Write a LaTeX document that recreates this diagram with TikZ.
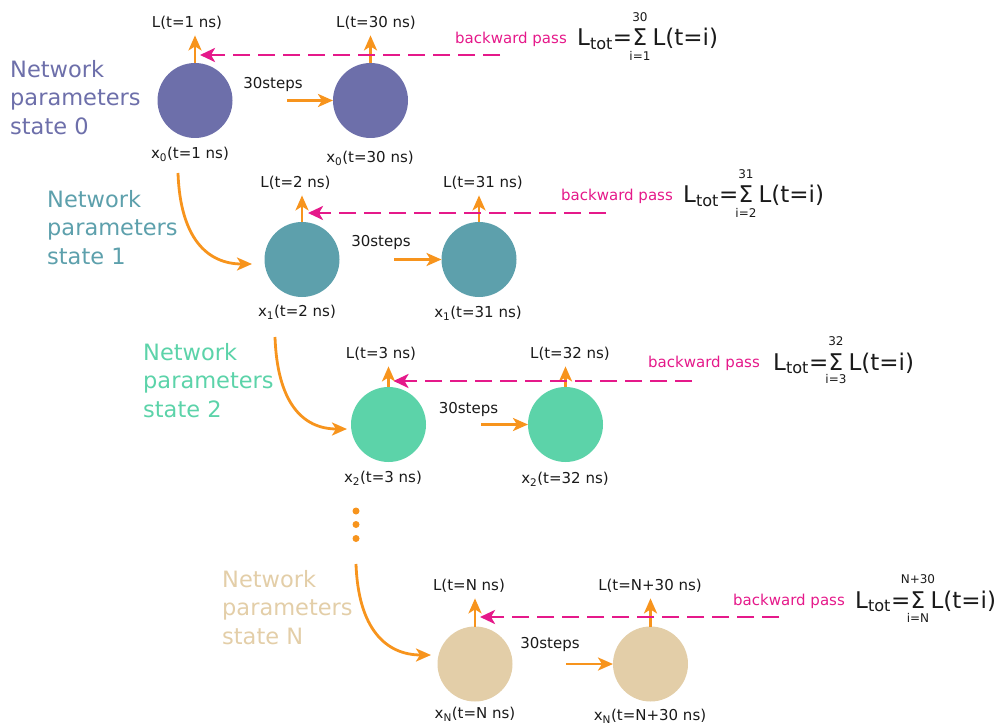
\documentclass[tikz,border=0pt]{standalone}
\usepackage{fontspec}
\setmainfont{DejaVu Sans}
\usetikzlibrary{arrows.meta,calc}
\definecolor{cP}{HTML}{6D6FAA}
\definecolor{cT}{HTML}{5DA0AC}
\definecolor{cM}{HTML}{5CD3A9}
\definecolor{cB}{HTML}{E3CEA8}
\definecolor{cO}{HTML}{F7941D}
\definecolor{cK}{HTML}{E5198A}
\definecolor{cTx}{HTML}{1A1A1A}
\newcommand\smfnt{\fontsize{15}{17}\selectfont}
\newcommand\bpfnt{\fontsize{15}{17}\selectfont}
\newcommand\bgfnt{\fontsize{22.5}{28.5}\selectfont}
\newcommand\eqfnt{\fontsize{23}{26}\selectfont}
\newcommand\limfnt{\fontsize{12}{13}\selectfont}
\newcommand\ltotrow[5]{%
  \node[eqp] (f#1a) at (#2,#3) {L\textsubscript{tot}=};
  \node[eqp] (f#1s) at (f#1a.base east) {Σ};
  \node[limp] (f#1u) at ($(f#1s.base)+(0,-29)$) {#4};
  \node[limp] (f#1d) at ($(f#1s.base)+(0,9.5)$) {#5};
  \node[eqp,xshift=5pt] (f#1b) at (f#1s.base east) {L(t=i)};
}
\begin{document}
\begin{tikzpicture}[x=1pt,y=-1pt,
  circ/.style={circle,minimum size=75pt,inner sep=0pt,outer sep=0pt},
  oarr/.style={draw=cO,line width=2.8pt,-{Stealth[length=15pt,width=13pt,inset=4pt]}},
  bwd/.style={draw=cK,line width=2.8pt,dash pattern=on 17pt off 8pt,-{Stealth[length=15pt,width=14pt,inset=4pt]}},
  lbl/.style={font=\smfnt,text=cTx,inner sep=2pt},
  bptxt/.style={font=\bpfnt,text=cK,inner sep=0pt,anchor=base east},
  bigl/.style={font=\bgfnt,align=left,anchor=north west,inner sep=0pt},
  eqp/.style={font=\eqfnt,text=cTx,inner sep=0pt,anchor=base west},
  limp/.style={font=\limfnt,text=cTx,inner sep=0pt},
  dotn/.style={circle,fill=cO,minimum size=7pt,inner sep=0pt}]
\useasboundingbox (0,0) rectangle (1000,727);

% ---------- row 0 ----------
\node[circ,fill=cP] (a0) at (195,100.5) {};
\node[circ,fill=cP] (b0) at (370.5,100.5) {};
\node[lbl] (la0) at (187,23) {L(t=1 ns)};
\node[lbl] (lb0) at (376,23) {L(t=30 ns)};
\node[lbl] (xa0) at (190,154) {x\textsubscript{0}(t=1 ns)};
\node[lbl] (xb0) at (370,158) {x\textsubscript{0}(t=30 ns)};
\node[lbl] (st0) at (273,84) {30steps};
\node[bigl,text=cP] (n0) at (10,60) {Network\\parameters\\state 0};
\coordinate (s0) at (287,100.5);
\draw[oarr] (s0) -- (b0.west);
\draw[oarr,shorten >=3.5pt] (a0.north) -- (a0.north |- la0.south);
\draw[oarr,shorten >=3.5pt] (b0.north) -- (b0.north |- lb0.south);
\coordinate (bp0) at (500,55);
\draw[bwd] (bp0) -- ($(a0.north |- bp0)+(5,0)$);
\node[bptxt] (bt0) at (567,44) {backward pass};
\ltotrow{0}{577}{46}{30}{i=1}

% ---------- row 1 ----------
\node[circ,fill=cT] (a1) at (302,259.5) {};
\node[circ,fill=cT] (b1) at (479,259.5) {};
\node[lbl] (la1) at (295.5,183) {L(t=2 ns)};
\node[lbl] (lb1) at (483,183) {L(t=31 ns)};
\node[lbl] (xa1) at (297,312) {x\textsubscript{1}(t=2 ns)};
\node[lbl] (xb1) at (478,313) {x\textsubscript{1}(t=31 ns)};
\node[lbl] (st1) at (381,242) {30steps};
\node[bigl,text=cT] (n1) at (47,190) {Network\\parameters\\state 1};
\coordinate (s1) at (394,259.5);
\draw[oarr] (s1) -- (b1.west);
\draw[oarr,shorten >=3.5pt] (a1.north) -- (a1.north |- la1.south);
\draw[oarr,shorten >=3.5pt] (b1.north) -- (b1.north |- lb1.south);
\coordinate (bp1) at (606,213);
\draw[bwd] (bp1) -- ($(a1.north |- bp1)+(6,0)$);
\node[bptxt] (bt1) at (673,201) {backward pass};
\ltotrow{1}{683}{203}{31}{i=2}
\coordinate (c01) at (178,173);
\draw[oarr] (c01) to[out=-88,in=180,out distance=65pt,in distance=45pt] ($(a1.west)+(-12.5,4.5)$);

% ---------- row 2 ----------
\node[circ,fill=cM] (a2) at (388.5,424.5) {};
\node[circ,fill=cM] (b2) at (565.5,424.5) {};
\node[lbl] (la2) at (381,354) {L(t=3 ns)};
\node[lbl] (lb2) at (570,354) {L(t=32 ns)};
\node[lbl] (xa2) at (383,478) {x\textsubscript{2}(t=3 ns)};
\node[lbl] (xb2) at (565,479) {x\textsubscript{2}(t=32 ns)};
\node[lbl] (st2) at (468.5,409) {30steps};
\node[bigl,text=cM] (n2) at (143,343) {Network\\parameters\\state 2};
\coordinate (s2) at (481,424.5);
\draw[oarr] (s2) -- (b2.west);
\draw[oarr,shorten >=3.5pt] (a2.north) -- (a2.north |- la2.south);
\draw[oarr,shorten >=3.5pt] (b2.north) -- (b2.north |- lb2.south);
\coordinate (bp2) at (692,381);
\draw[bwd] (bp2) -- ($(a2.north |- bp2)+(5,0)$);
\node[bptxt] (bt2) at (760,367) {backward pass};
\ltotrow{2}{773}{370}{32}{i=3}
\coordinate (c12) at (275,337);
\draw[oarr] (c12) to[out=-88,in=180,out distance=65pt,in distance=45pt] ($(a2.west)+(-4,4.5)$);

% ---------- dots ----------
\node[dotn] (d1) at (356,511) {};
\node[dotn] (d2) at (356,524.5) {};
\node[dotn] (d3) at (356,538.5) {};

% ---------- row N ----------
\node[circ,fill=cB] (aN) at (475,664) {};
\node[circ,fill=cB] (bN) at (650.5,664) {};
\node[lbl] (laN) at (469,586) {L(t=N ns)};
\node[lbl] (lbN) at (650,586) {L(t=N+30 ns)};
\node[lbl] (xaN) at (475,714) {x\textsubscript{N}(t=N ns)};
\node[lbl] (xbN) at (650,716) {x\textsubscript{N}(t=N+30 ns)};
\node[lbl] (stN) at (550,644) {30steps};
\node[bigl,text=cB] (nN) at (222,570) {Network\\parameters\\state N};
\coordinate (sN) at (566,664);
\draw[oarr] (sN) -- (bN.west);
\draw[oarr,shorten >=3.5pt] (aN.north) -- (aN.north |- laN.south);
\draw[oarr,shorten >=3.5pt] (bN.north) -- (bN.north |- lbN.south);
\coordinate (bpN) at (779,617);
\draw[bwd] (bpN) -- ($(aN.north |- bpN)+(5,0)$);
\node[bptxt] (btN) at (845,605) {backward pass};
\ltotrow{N}{855}{608}{N+30}{i=N}
\coordinate (c2N) at (356,564);
\draw[oarr] (c2N) to[out=-88,in=180,out distance=65pt,in distance=45pt] ($(aN.west)+(-6.5,-9)$);
\end{tikzpicture}
\end{document}
